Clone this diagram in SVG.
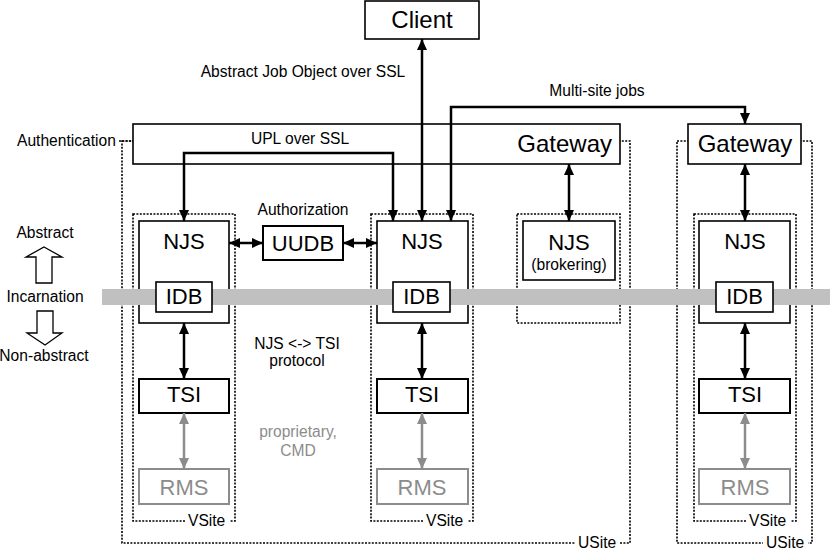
<svg xmlns="http://www.w3.org/2000/svg" width="830" height="554" viewBox="0 0 830 554">
<style>
text{font-family:"Liberation Sans",Arial,sans-serif;fill:#000}
.big{font-size:22px;text-anchor:middle}
.gw{font-size:24px}
.sm{font-size:15.6px}
.mid{text-anchor:middle}
.box{fill:#fff;stroke:#000;stroke-width:1.6}
.box2{fill:#fff;stroke:#000;stroke-width:2}
.gbox{fill:#fff;stroke:#8c8c8c;stroke-width:2}
.gtxt{fill:#8c8c8c}
.dot{fill:none;stroke:#000;stroke-width:1.6;stroke-dasharray:2,1.4}
.lab{fill:#fff;stroke:none}
.conn{fill:none;stroke:#000;stroke-width:2.5;marker-start:url(#ah);marker-end:url(#ah)}
.gconn{fill:none;stroke:#8c8c8c;stroke-width:2.5;marker-start:url(#gah);marker-end:url(#gah)}
.hollow{fill:#fff;stroke:#000;stroke-width:1.3}
</style>
<defs>
<marker id="ah" markerUnits="userSpaceOnUse" markerWidth="11" markerHeight="10" refX="11" refY="5" orient="auto-start-reverse"><path d="M0,0 L11,5 L0,10 z" fill="#000"/></marker>
<marker id="gah" markerUnits="userSpaceOnUse" markerWidth="11" markerHeight="10" refX="11" refY="5" orient="auto-start-reverse"><path d="M0,0 L11,5 L0,10 z" fill="#8c8c8c"/></marker>
</defs>

<g id="usite1">
<rect class="dot" x="122" y="141" width="508" height="402"/>
<line class="dot" x1="119" y1="141" x2="133" y2="141"/>
<rect class="lab" x="575" y="535" width="45" height="16"/>
<text class="sm" x="578" y="548">USite</text>
</g>
<g id="usite2">
<rect class="dot" x="677" y="141" width="135" height="402"/>
<rect class="lab" x="763" y="535" width="45" height="16"/>
<text class="sm" x="766" y="548">USite</text>
</g>

<g id="gateway1">
<rect class="box" x="133" y="124" width="487" height="40"/>
<text class="gw" x="612" y="152" text-anchor="end">Gateway</text>
</g>
<g id="gateway2">
<rect class="box" x="688" y="124" width="113" height="40"/>
<text class="gw mid" x="745" y="152">Gateway</text>
</g>
<g id="client">
<rect class="box" x="365" y="1" width="114" height="38"/>
<text class="gw mid" x="422" y="28">Client</text>
</g>

<g id="vsite1">
<rect class="dot" x="133" y="214" width="102" height="307"/>
<rect class="lab" x="185" y="513" width="45" height="16"/>
<text class="sm" x="188" y="526">VSite</text>
</g>
<g id="vsite2">
<rect class="dot" x="371" y="214" width="102" height="307"/>
<rect class="lab" x="423" y="513" width="45" height="16"/>
<text class="sm" x="426" y="526">VSite</text>
</g>
<g id="vsite3">
<rect class="dot" x="694" y="214" width="102" height="307"/>
<rect class="lab" x="746" y="513" width="45" height="16"/>
<text class="sm" x="749" y="526">VSite</text>
</g>
<g id="brokering-site">
<rect class="dot" x="517" y="214" width="103" height="109"/>
</g>

<g id="njs1">
<rect class="box" x="139" y="221" width="90" height="102"/>
<text class="big" x="184" y="249">NJS</text>
</g>
<g id="njs2">
<rect class="box" x="377" y="221" width="91" height="102"/>
<text class="big" x="422" y="249">NJS</text>
</g>
<g id="njs3">
<rect class="box" x="699" y="221" width="91" height="102"/>
<text class="big" x="745" y="249">NJS</text>
</g>
<g id="njs-brokering">
<rect class="box" x="523" y="221" width="92" height="59"/>
<text class="big" x="569" y="250">NJS</text>
<text class="sm mid" x="569" y="270">(brokering)</text>
</g>

<g id="incarnation-band">
<rect x="102" y="289" width="728" height="16" fill="#c0c0c0"/>
</g>

<g id="idb1">
<rect class="box" x="156" y="282" width="56" height="30"/>
<text class="big" x="184" y="304">IDB</text>
</g>
<g id="idb2">
<rect class="box" x="393" y="282" width="57" height="30"/>
<text class="big" x="421.5" y="304">IDB</text>
</g>
<g id="idb3">
<rect class="box" x="716" y="282" width="57" height="30"/>
<text class="big" x="744.5" y="304">IDB</text>
</g>

<g id="uudb">
<rect class="box2" x="263" y="226" width="80" height="34"/>
<text class="big" x="303" y="251">UUDB</text>
</g>

<g id="tsi1">
<rect class="box2" x="139" y="379" width="90" height="34"/>
<text class="big" x="184" y="402">TSI</text>
</g>
<g id="tsi2">
<rect class="box2" x="377" y="379" width="91" height="34"/>
<text class="big" x="422" y="402">TSI</text>
</g>
<g id="tsi3">
<rect class="box2" x="699" y="379" width="91" height="34"/>
<text class="big" x="745" y="402">TSI</text>
</g>

<g id="rms1">
<rect class="gbox" x="139" y="469" width="90" height="35"/>
<text class="big gtxt" x="184" y="495">RMS</text>
</g>
<g id="rms2">
<rect class="gbox" x="377" y="469" width="91" height="35"/>
<text class="big gtxt" x="422" y="495">RMS</text>
</g>
<g id="rms3">
<rect class="gbox" x="699" y="469" width="91" height="35"/>
<text class="big gtxt" x="745" y="495">RMS</text>
</g>

<g id="connectors">
<path class="conn" d="M422,221 L422,39"/>
<path class="conn" d="M184,221 L184,153 L393,153 L393,221"/>
<path class="conn" d="M451,221 L451,107 L745,107 L745,124"/>
<path class="conn" d="M569,164 L569,221"/>
<path class="conn" d="M745,164 L745,221"/>
<path class="conn" d="M229,243 L263,243"/>
<path class="conn" d="M343,243 L377,243"/>
<path class="conn" d="M184,323 L184,379"/>
<path class="conn" d="M422,323 L422,379"/>
<path class="conn" d="M745,323 L745,379"/>
<path class="gconn" d="M184,413 L184,469"/>
<path class="gconn" d="M422,413 L422,469"/>
<path class="gconn" d="M745,413 L745,469"/>
</g>

<g id="labels">
<text class="sm mid" x="303" y="77">Abstract Job Object over SSL</text>
<text class="sm mid" x="597" y="96">Multi-site jobs</text>
<text class="sm mid" x="300" y="144">UPL over SSL</text>
<text class="sm" x="17" y="146">Authentication</text>
<text class="sm mid" x="303" y="215">Authorization</text>
<text class="sm mid" x="297" y="349">NJS &lt;-&gt; TSI</text>
<text class="sm mid" x="297" y="366">protocol</text>
<text class="sm mid gtxt" x="298" y="437">proprietary,</text>
<text class="sm mid gtxt" x="298" y="456">CMD</text>
</g>

<g id="legend">
<text class="sm mid" x="45" y="238">Abstract</text>
<path class="hollow" d="M44,247 L62,257 L52,257 L52,283 L36,283 L36,257 L26,257 Z"/>
<text class="sm mid" x="45" y="302">Incarnation</text>
<path class="hollow" d="M37,311 L53,311 L53,333 L62,333 L45,345 L27,333 L37,333 Z"/>
<text class="sm mid" x="44" y="361">Non-abstract</text>
</g>
</svg>
